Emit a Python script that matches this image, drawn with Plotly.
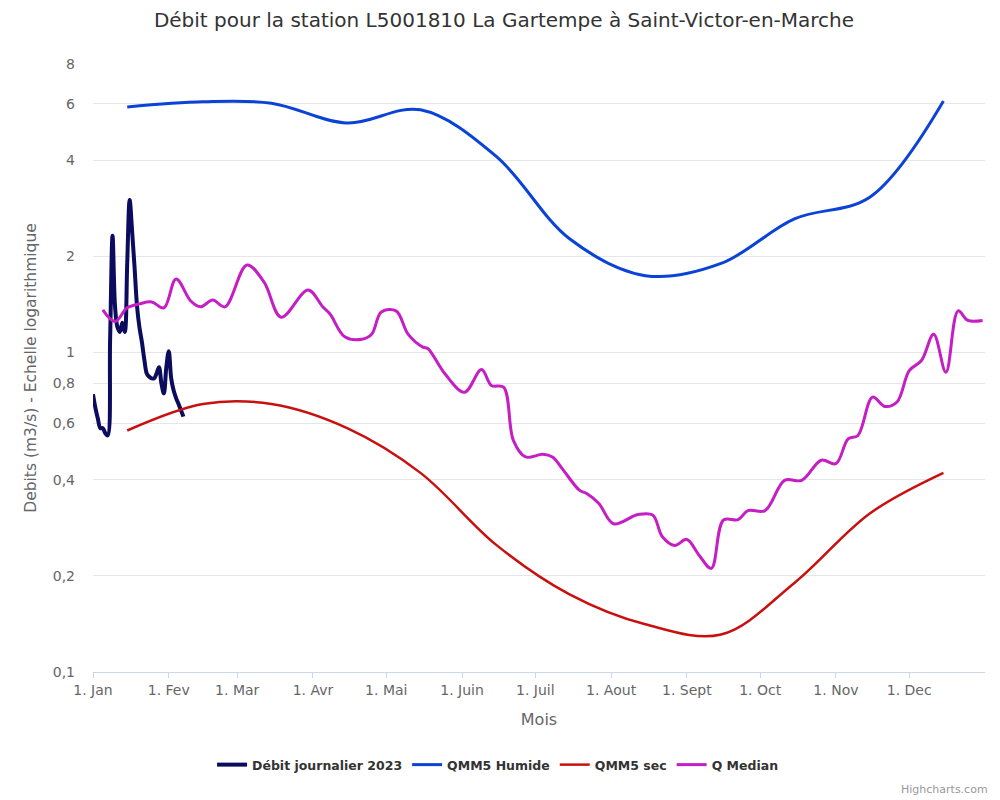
import plotly.graph_objects as go
import pandas as pd

# ---------------- data ----------------
daily_start = "2023-01-01"
daily_values = [0.74, 0.67, 0.62, 0.58, 0.58, 0.56, 0.55, 1.1, 2.32, 1.4,
                1.2, 1.16, 1.24, 1.16, 1.9, 3.0, 2.4, 1.85, 1.4, 1.2,
                1.08, 0.95, 0.86, 0.84, 0.83, 0.83, 0.86, 0.9, 0.8, 0.745,
                0.9, 1.01, 0.83, 0.76, 0.72, 0.69, 0.66, 0.63]

monthly_dates = ["2023-01-15", "2023-02-15", "2023-03-15", "2023-04-15",
                 "2023-05-15", "2023-06-15", "2023-07-15", "2023-08-15",
                 "2023-09-15", "2023-10-15", "2023-11-15", "2023-12-15"]
qmm5_humide = [5.87, 6.09, 6.03, 5.23, 5.75, 4.11, 2.27, 1.74, 1.90, 2.62, 3.07, 6.13]
qmm5_sec = [0.57, 0.69, 0.69, 0.58, 0.42, 0.25, 0.175, 0.141, 0.131, 0.19, 0.314, 0.42]

median_dates = ["2023-01-05", "2023-01-10", "2023-01-15", "2023-01-20", "2023-01-25",
                "2023-01-30", "2023-02-04", "2023-02-10", "2023-02-14", "2023-02-19",
                "2023-02-24", "2023-03-05", "2023-03-12", "2023-03-19", "2023-03-30",
                "2023-04-05", "2023-04-08", "2023-04-14", "2023-04-21", "2023-04-25",
                "2023-04-29", "2023-05-05", "2023-05-10", "2023-05-16", "2023-05-18",
                "2023-05-25", "2023-06-02", "2023-06-09", "2023-06-13", "2023-06-18",
                "2023-06-22", "2023-06-27", "2023-07-04", "2023-07-08", "2023-07-12",
                "2023-07-19", "2023-07-22", "2023-07-27", "2023-08-02", "2023-08-12",
                "2023-08-18", "2023-08-22", "2023-08-27", "2023-09-01", "2023-09-06",
                "2023-09-11", "2023-09-16", "2023-09-22", "2023-09-26", "2023-10-03",
                "2023-10-11", "2023-10-18", "2023-10-26", "2023-11-01", "2023-11-06",
                "2023-11-10", "2023-11-16", "2023-11-21", "2023-11-26", "2023-12-01",
                "2023-12-06", "2023-12-11", "2023-12-16", "2023-12-21", "2023-12-25",
                "2023-12-31"]
median_values = [1.36, 1.25, 1.38, 1.42, 1.44,
                 1.38, 1.70, 1.45, 1.39, 1.46,
                 1.39, 1.88, 1.66, 1.29, 1.57,
                 1.39, 1.32, 1.12, 1.10, 1.14,
                 1.34, 1.35, 1.14, 1.04, 1.03,
                 0.858, 0.751, 0.885, 0.789, 0.779,
                 0.531, 0.471, 0.48, 0.471, 0.433,
                 0.371, 0.362, 0.337, 0.291, 0.311,
                 0.31, 0.265, 0.249, 0.26, 0.232,
                 0.211, 0.299, 0.30, 0.32, 0.32,
                 0.398, 0.398, 0.46, 0.449, 0.537,
                 0.55, 0.725, 0.678, 0.70, 0.878,
                 0.944, 1.14, 0.868, 1.35, 1.26,
                 1.26]

month_ticks = ["2023-01-01", "2023-02-01", "2023-03-01", "2023-04-01", "2023-05-01",
               "2023-06-01", "2023-07-01", "2023-08-01", "2023-09-01", "2023-10-01",
               "2023-11-01", "2023-12-01"]
month_labels = ["1. Jan", "1. Fev", "1. Mar", "1. Avr", "1. Mai", "1. Juin",
                "1. Juil", "1. Aout", "1. Sept", "1. Oct", "1. Nov", "1. Dec"]

y_ticks = [0.1, 0.2, 0.4, 0.6, 0.8, 1, 2, 4, 6, 8]
y_labels = ["0,1", "0,2", "0,4", "0,6", "0,8", "1", "2", "4", "6", "8"]

daily_dates = pd.date_range(daily_start, periods=len(daily_values), freq="D")

# ---------------- figure ----------------
FONT = "DejaVu Sans"
W, H = 992, 792  # page body has an 8px margin
fig = go.Figure()

fig.add_trace(go.Scatter(x=daily_dates, y=daily_values, mode="lines",
                         name="Débit journalier 2023",
                         line=dict(color="#0c0c5e", width=4, shape="spline")))
fig.add_trace(go.Scatter(x=monthly_dates, y=qmm5_humide, mode="lines",
                         name="QMM5 Humide",
                         line=dict(color="#0a43d6", width=3, shape="spline")))
fig.add_trace(go.Scatter(x=monthly_dates, y=qmm5_sec, mode="lines",
                         name="QMM5 sec",
                         line=dict(color="#c8110f", width=2.5, shape="spline")))
fig.add_trace(go.Scatter(x=median_dates, y=median_values, mode="lines",
                         name="Q Median",
                         line=dict(color="#c41ec4", width=3, shape="spline")))

fig.update_layout(
    width=W, height=H,
    margin=dict(l=85, r=15, t=56, b=128, autoexpand=False),
    paper_bgcolor="white", plot_bgcolor="white",
    font=dict(family=FONT, color="#666666", size=14),
    title=dict(text="Débit pour la station L5001810 La Gartempe à Saint-Victor-en-Marche",
               x=0.5, xanchor="center", y=1 - 12 / H, yref="container", yanchor="middle",
               font=dict(family=FONT, size=20, color="#333333")),
    showlegend=True,
    legend=dict(orientation="h", x=0.494, xanchor="center", xref="container",
                y=1 - 757 / H, yref="container", yanchor="middle",
                font=dict(family=FONT, size=12.5, color="#333333", weight="bold"),
                itemwidth=30, tracegroupgap=0),
    xaxis=dict(type="date", range=["2023-01-01", "2024-01-01"],
               tickvals=month_ticks, ticktext=month_labels,
               showgrid=False, showline=True, linecolor="#ccd6eb", linewidth=1,
               ticks="outside", ticklen=5, tickcolor="#ccd6eb",
               tickfont=dict(family=FONT, size=14, color="#666666"),
               title=dict(text="Mois", font=dict(family=FONT, size=16, color="#666666"),
                          standoff=17),
               zeroline=False, automargin=False),
    yaxis=dict(type="log", range=[-1, 0.90309],
               tickvals=y_ticks, ticktext=y_labels,
               showgrid=True, gridcolor="#e6e6e6", gridwidth=1,
               ticks="", ticklabelstandoff=17,
               tickfont=dict(family=FONT, size=14, color="#666666"),
               title=dict(text="Debits (m3/s) - Echelle logarithmique",
                          font=dict(family=FONT, size=15.5, color="#666666"),
                          standoff=12),
               showline=False, zeroline=False, automargin=False),
    annotations=[dict(text="Highcharts.com", xref="paper", yref="paper",
                      x=(990 - 8 - 85) / 892, y=(664 - 781) / 608,
                      xanchor="right", yanchor="middle", showarrow=False,
                      font=dict(family=FONT, size=11, color="#999999"))],
)

fig.write_html("out.html")
